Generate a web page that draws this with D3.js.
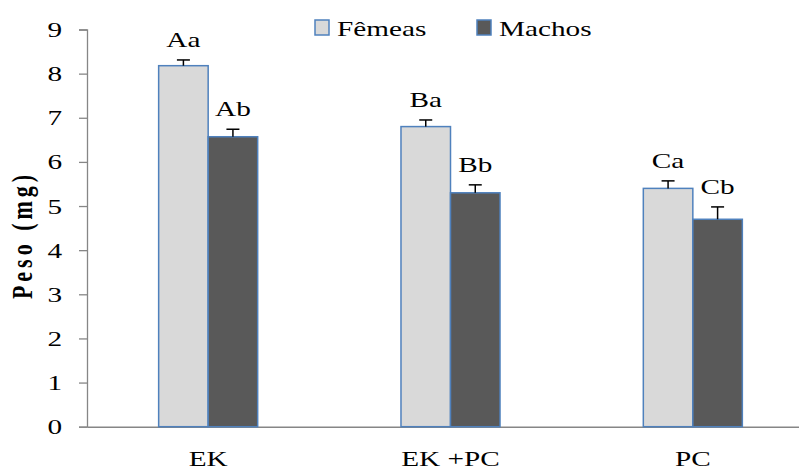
<!DOCTYPE html>
<html>
<head>
<meta charset="utf-8">
<script src="https://cdn.jsdelivr.net/npm/d3@7"></script>
<style>
  html, body { margin: 0; padding: 0; background: #fff; }
  svg text { font-family: "Liberation Serif", "Times New Roman", serif; fill: #000; }
</style>
</head>
<body>
<div id="chart"></div>
<script>
(function() {
  'use strict';

  var
    categories = ['EK', 'EK +PC', 'PC'],
    series = ['Fêmeas', 'Machos'],
    femeas = [8.18, 6.80, 5.40],
    machos = [6.57, 5.30, 4.70],
    femeasErr = [0.13, 0.15, 0.17],
    machosErr = [0.17, 0.18, 0.28],
    femeasLabels = ['Aa', 'Ba', 'Ca'],
    machosLabels = ['Ab', 'Bb', 'Cb'],
    yTicks = [0, 1, 2, 3, 4, 5, 6, 7, 8, 9];

  var
    WIDTH = 799,
    HEIGHT = 471,
    STRETCH = 1.33,   // the source picture is squeezed wide, text too
    FONT = 22,
    AXIS_COLOR = '#868686',
    BAR_STROKE = '#4f81bd',
    COLORS = {'Fêmeas': '#d9d9d9', 'Machos': '#595959'};

  var rows = categories.map(function(c, i) {
    return {
      cat: c,
      bars: [
        {s: 'Fêmeas', v: femeas[i], e: femeasErr[i], lab: femeasLabels[i]},
        {s: 'Machos', v: machos[i], e: machosErr[i], lab: machosLabels[i]}
      ]
    };
  });

  var svg = d3.select('#chart').append('svg')
    .attr('width', WIDTH)
    .attr('height', HEIGHT);

  var x0 = d3.scaleBand().domain(categories).range([87, 814]);
  var x1 = d3.scaleBand().domain(series)
    .range([0, x0.bandwidth()])
    .paddingInner(0)
    .paddingOuter(1.447);
  var y = d3.scaleLinear().domain([0, 9]).range([426.7, 29.5]);

  // y axis
  var yAxis = svg.append('g')
    .attr('transform', 'translate(87,0)')
    .call(d3.axisLeft(y).tickValues(yTicks).tickSize(8).tickSizeOuter(8).tickPadding(17));
  yAxis.selectAll('path, line').attr('stroke', AXIS_COLOR).attr('stroke-width', 1.3);
  yAxis.selectAll('text')
    .attr('font-size', FONT)
    .attr('font-family', '"Liberation Serif", serif')
    .attr('fill', '#000')
    .each(function() {
      var t = d3.select(this), xx = +t.attr('x');
      t.attr('x', null).attr('transform', 'translate(' + xx + ',0) scale(' + STRETCH + ',1)');
    });

  // x axis
  var xAxis = svg.append('g')
    .attr('transform', 'translate(0,' + y(0) + ')')
    .call(d3.axisBottom(x0).tickSize(0).tickSizeOuter(0).tickPadding(24));
  xAxis.select('.domain').attr('stroke', AXIS_COLOR).attr('stroke-width', 1.5);
  xAxis.selectAll('text')
    .attr('font-size', FONT)
    .attr('font-family', '"Liberation Serif", serif')
    .attr('fill', '#000')
    .each(function() {
      var t = d3.select(this), yy = +t.attr('y');
      t.attr('y', null).attr('transform', 'translate(0,' + yy + ') scale(' + STRETCH + ',1)');
    });

  // bars
  var groups = svg.selectAll('g.cat')
    .data(rows)
    .enter()
    .append('g')
    .attr('class', 'cat')
    .attr('transform', function(d) { return 'translate(' + x0(d.cat) + ',0)'; });

  var bars = groups.selectAll('g.bar')
    .data(function(d) { return d.bars; })
    .enter()
    .append('g')
    .attr('class', 'bar');

  bars.append('rect')
    .attr('x', function(d) { return x1(d.s); })
    .attr('width', x1.bandwidth())
    .attr('y', function(d) { return y(d.v); })
    .attr('height', function(d) { return y(0) - y(d.v); })
    .attr('fill', function(d) { return COLORS[d.s]; })
    .attr('stroke', BAR_STROKE)
    .attr('stroke-width', 1.5);

  // error bars
  bars.append('line')
    .attr('x1', function(d) { return x1(d.s) + x1.bandwidth() / 2; })
    .attr('x2', function(d) { return x1(d.s) + x1.bandwidth() / 2; })
    .attr('y1', function(d) { return y(d.v); })
    .attr('y2', function(d) { return y(d.v + d.e); })
    .attr('stroke', '#000')
    .attr('stroke-width', 1.5);

  bars.append('line')
    .attr('x1', function(d) { return x1(d.s) + x1.bandwidth() / 2 - 6.5; })
    .attr('x2', function(d) { return x1(d.s) + x1.bandwidth() / 2 + 6.5; })
    .attr('y1', function(d) { return y(d.v + d.e); })
    .attr('y2', function(d) { return y(d.v + d.e); })
    .attr('stroke', '#000')
    .attr('stroke-width', 1.5);

  // letters over bars
  bars.append('text')
    .attr('text-anchor', 'middle')
    .attr('font-size', FONT)
    .attr('transform', function(d) {
      return 'translate(' + (x1(d.s) + x1.bandwidth() / 2) + ',' + (y(d.v + d.e) - 13) + ') scale(' + STRETCH + ',1)';
    })
    .text(function(d) { return d.lab; });

  // y title
  svg.append('text')
    .attr('text-anchor', 'middle')
    .attr('font-size', FONT)
    .attr('font-weight', 'bold')
    .attr('letter-spacing', 4)
    .attr('transform', 'translate(32,235) rotate(-90) scale(1,' + STRETCH + ')')
    .text('Peso (mg)');

  // legend
  var legendPos = [{x: 315, tx: 337}, {x: 477, tx: 499}];
  var legend = svg.selectAll('g.legend')
    .data(series)
    .enter()
    .append('g')
    .attr('class', 'legend');

  legend.append('rect')
    .attr('x', function(d, i) { return legendPos[i].x; })
    .attr('y', 20)
    .attr('width', 14)
    .attr('height', 15)
    .attr('fill', function(d) { return COLORS[d]; })
    .attr('stroke', BAR_STROKE)
    .attr('stroke-width', 1.5);

  legend.append('text')
    .attr('font-size', FONT)
    .attr('transform', function(d, i) {
      return 'translate(' + legendPos[i].tx + ',36) scale(' + STRETCH + ',1)';
    })
    .text(function(d) { return d; });
})();
</script>
</body>
</html>
